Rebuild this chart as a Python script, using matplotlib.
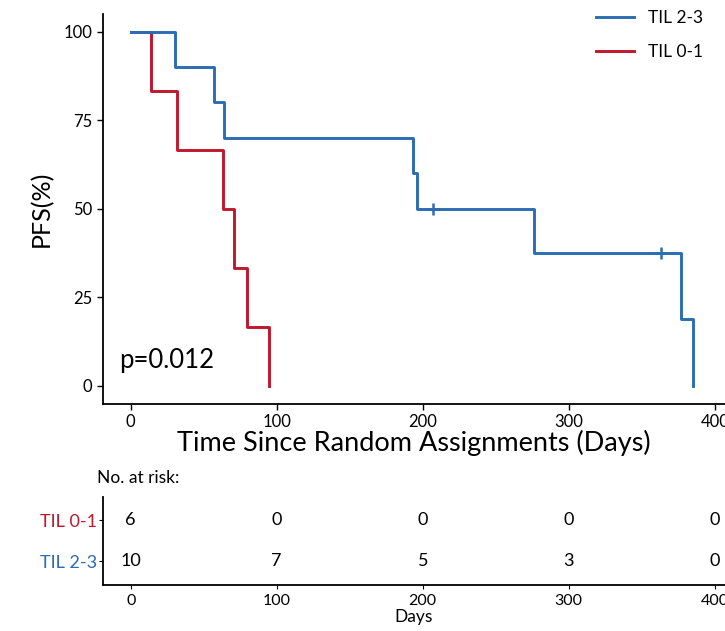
import matplotlib
matplotlib.use("Agg")
import matplotlib.pyplot as plt

# Kaplan-Meier steps
blue_t = [0, 30, 57, 64, 193, 196, 276, 377, 385]
blue_s = [100, 90, 80, 70, 60, 50, 37.5, 18.75, 0]
blue_cens_t = [207, 363]
blue_cens_s = [50, 37.5]

red_t = [0, 14, 32, 63, 71, 79.5, 94.5]
red_s = [100, 83.3, 66.7, 50, 33.3, 16.7, 0]

risk_times = [0, 100, 200, 300, 400]
risk_red = [6, 0, 0, 0, 0]
risk_blue = [10, 7, 5, 3, 0]

BLUE = "#2b6cb3"
RED = "#c0172d"
plt.rcParams["font.family"] = ["Lato", "DejaVu Sans"]

fig = plt.figure(figsize=(7.25, 6.31), dpi=100)
ax = fig.add_axes([0.142, 0.36, 0.858, 0.618])

ax.step(red_t, red_s, where="post", color=RED, lw=2.1, label="TIL 0-1")
ax.step(blue_t, blue_s, where="post", color=BLUE, lw=2.1, label="TIL 2-3")
ax.plot(blue_cens_t, blue_cens_s, "+", color=BLUE, ms=8, mew=1.8)

ax.set_xlim(-19, 407)
ax.set_ylim(-5.1, 105)
ax.set_xticks([0, 100, 200, 300, 400])
ax.set_yticks([0, 25, 50, 75, 100])
ax.tick_params(labelsize=12, length=4, width=1)
for s in ["top", "right"]:
    ax.spines[s].set_visible(False)
ax.spines["left"].set_linewidth(1.3)
ax.spines["bottom"].set_linewidth(1.3)
ax.set_ylabel("PFS(%)", fontsize=18, labelpad=8)
ax.set_xlabel("Time Since Random Assignments (Days)", fontsize=19.5, labelpad=0)
ax.text(-8, 5, "p=0.012", fontsize=18.5)

h, l = ax.get_legend_handles_labels()
ax.legend(h[::-1], l[::-1], loc="upper right", bbox_to_anchor=(0.99, 1.05),
          frameon=False, fontsize=12.5, handlelength=2.2, labelspacing=1.05)

# risk table
rax = fig.add_axes([0.142, 0.073, 0.858, 0.139])
for t, n in zip(risk_times, risk_red):
    rax.text(t, 1, str(n), ha="center", va="center", fontsize=13)
for t, n in zip(risk_times, risk_blue):
    rax.text(t, 0, str(n), ha="center", va="center", fontsize=13)
rax.set_xlim(-19, 407)
rax.set_ylim(-0.585, 1.56)
rax.set_xticks(risk_times)
rax.set_yticks([1, 0])
rax.set_yticklabels(["TIL 0-1", "TIL 2-3"], fontsize=13)
for lab, c in zip(rax.get_yticklabels(), [RED, BLUE]):
    lab.set_color(c)
rax.tick_params(axis="x", labelsize=11.5, length=3)
rax.tick_params(axis="y", length=3, pad=1)
for s in ["top", "right"]:
    rax.spines[s].set_visible(False)
rax.spines["left"].set_linewidth(1.3)
rax.spines["bottom"].set_linewidth(1.3)
rax.set_xlabel("Days", fontsize=12.5, labelpad=1)
fig.text(97 / 725, 1 - 478 / 631, "No. at risk:", fontsize=12.5, va="center")

fig.savefig("out.png", dpi=100)
